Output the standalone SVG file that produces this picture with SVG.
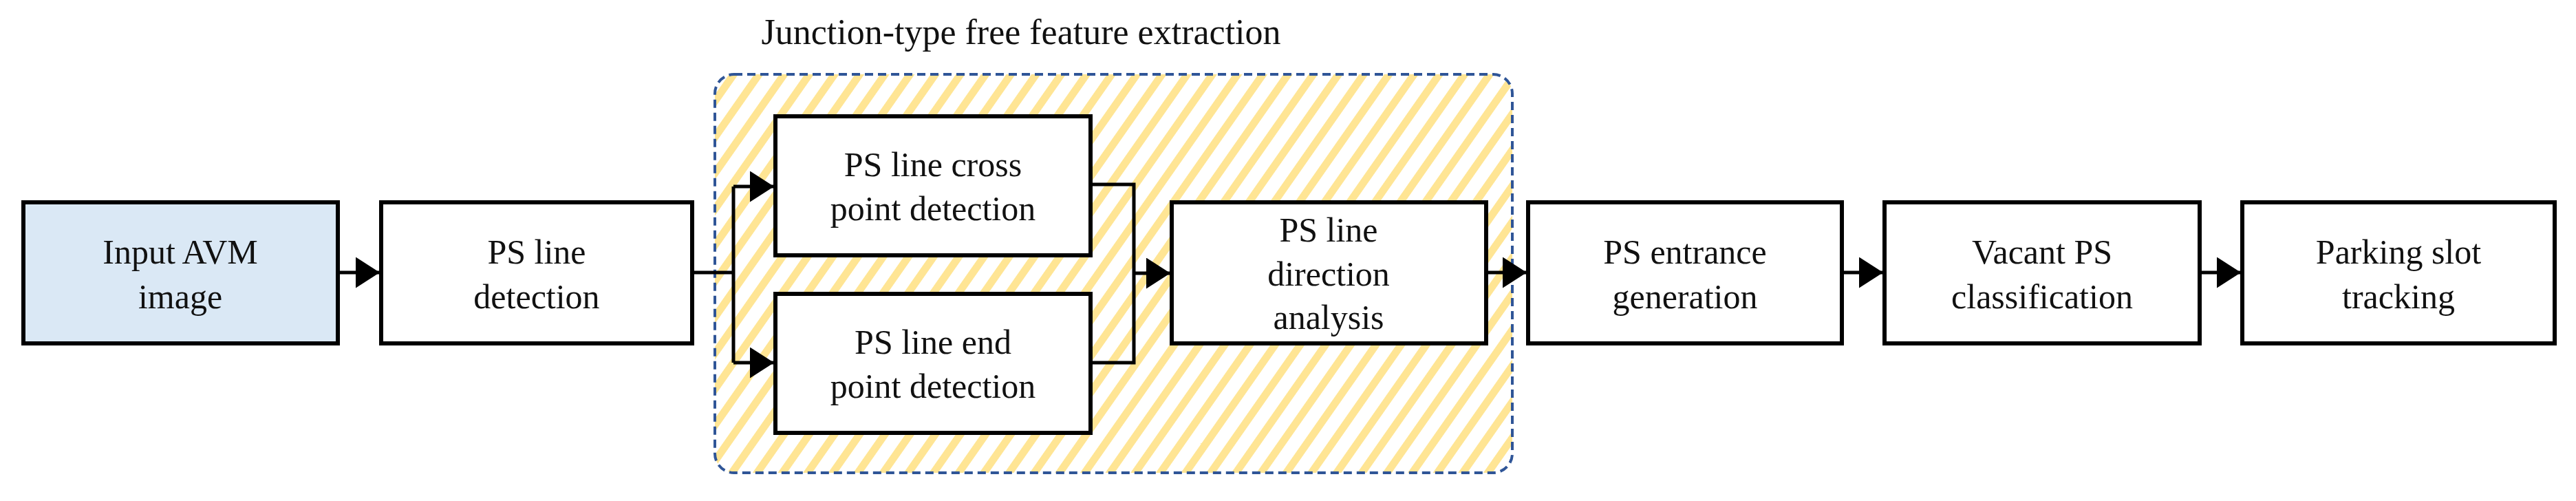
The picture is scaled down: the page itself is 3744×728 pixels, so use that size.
<svg xmlns="http://www.w3.org/2000/svg" width="3744" height="728" viewBox="0 0 3744 728">
<style>
.box{fill:#fff;stroke:#000;stroke-width:6}
.t{font-family:"Liberation Serif",serif;font-size:50px;text-anchor:middle;fill:#111}
.c{fill:none;stroke:#000;stroke-width:5}
</style>
<defs>
<pattern id="hatch" width="30" height="30" patternUnits="userSpaceOnUse" patternTransform="rotate(35)">
<rect width="30" height="30" fill="#fff"/>
<rect width="11" height="30" fill="#FFE594"/>
</pattern>
<marker id="ah" markerWidth="8" markerHeight="9" refX="7" refY="4.5" orient="auto" markerUnits="strokeWidth">
<path d="M0,0 L7,4.5 L0,9 z" fill="#000"/>
</marker>
</defs>
<rect width="3744" height="728" fill="#fff"/>
<g id="group-junction">
<rect x="1039" y="108" width="1159" height="579" rx="28" fill="url(#hatch)" stroke="#2F5597" stroke-width="4" stroke-dasharray="12 7"/>
<text class="t" x="1484" y="64" style="font-size:52px">Junction-type free feature extraction</text>
</g>
<g id="connectors">
<line class="c" x1="491" y1="396" x2="552" y2="396" marker-end="url(#ah)"/>
<polyline class="c" points="1006,396 1066,396"/>
<polyline class="c" points="1066,271 1066,527"/>
<line class="c" x1="1066" y1="271" x2="1125" y2="271" marker-end="url(#ah)"/>
<line class="c" x1="1066" y1="527" x2="1125" y2="527" marker-end="url(#ah)"/>
<polyline class="c" points="1585,268 1648,268 1648,527 1585,527"/>
<line class="c" x1="1648" y1="397" x2="1701" y2="397" marker-end="url(#ah)"/>
<line class="c" x1="2160" y1="396" x2="2219" y2="396" marker-end="url(#ah)"/>
<line class="c" x1="2677" y1="396" x2="2737" y2="396" marker-end="url(#ah)"/>
<line class="c" x1="3197" y1="396" x2="3257" y2="396" marker-end="url(#ah)"/>
</g>
<g id="input">
<rect x="34" y="294" width="457" height="205" fill="#DAE8F5" stroke="#000" stroke-width="6"/>
<text class="t" x="262" y="383">Input AVM</text><text class="t" x="262" y="448">image</text>
</g>
<g id="ps-line-detection">
<rect class="box" x="554" y="294" width="452" height="205"/>
<text class="t" x="780" y="383">PS line</text><text class="t" x="780" y="448">detection</text>
</g>
<g id="cross-point">
<rect class="box" x="1127" y="169" width="458" height="202"/>
<text class="t" x="1356" y="256">PS line cross</text><text class="t" x="1356" y="320">point detection</text>
</g>
<g id="end-point">
<rect class="box" x="1127" y="427" width="458" height="202"/>
<text class="t" x="1356" y="514">PS line end</text><text class="t" x="1356" y="578">point detection</text>
</g>
<g id="direction">
<rect class="box" x="1703" y="294" width="457" height="205"/>
<text class="t" x="1931" y="351">PS line</text><text class="t" x="1931" y="415">direction</text><text class="t" x="1931" y="478">analysis</text>
</g>
<g id="entrance">
<rect class="box" x="2221" y="294" width="456" height="205"/>
<text class="t" x="2449" y="383">PS entrance</text><text class="t" x="2449" y="448">generation</text>
</g>
<g id="vacant">
<rect class="box" x="2739" y="294" width="458" height="205"/>
<text class="t" x="2968" y="383">Vacant PS</text><text class="t" x="2968" y="448">classification</text>
</g>
<g id="tracking">
<rect class="box" x="3259" y="294" width="454" height="205"/>
<text class="t" x="3486" y="383">Parking slot</text><text class="t" x="3486" y="448">tracking</text>
</g>
</svg>
